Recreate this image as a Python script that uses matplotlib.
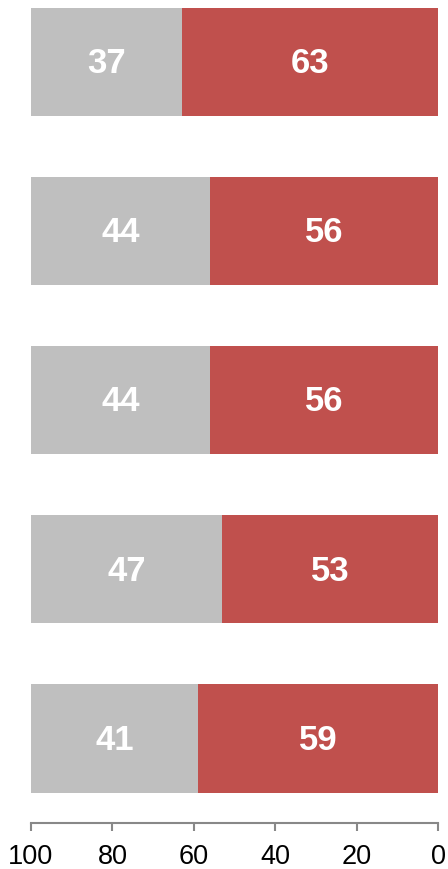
import matplotlib
matplotlib.use("Agg")
import matplotlib.pyplot as plt

red_values = [63, 56, 56, 53, 59]
grey_values = [37, 44, 44, 47, 41]
ticks = [100, 80, 60, 40, 20, 0]

plt.rcParams['font.family'] = ['Liberation Sans', 'DejaVu Sans']

fig = plt.figure(figsize=(4.48, 8.69), dpi=100)
ax = fig.add_axes([31/448, 46/869, 407/448, 823/869])

red_c = '#C0504D'
grey_c = '#BFBFBF'
n = len(red_values)
ypos = [n - 1 - i for i in range(n)]
h = 0.64
for y, r, g in zip(ypos, red_values, grey_values):
    ax.barh(y, r, left=0, height=h, color=red_c, edgecolor='none')
    ax.barh(y, g, left=r, height=h, color=grey_c, edgecolor='none')
    ax.text(r / 2, y - 0.01, str(r), ha='center', va='center', color='white',
            fontsize=25, fontweight='bold')
    ax.text(r + g / 2, y - 0.01, str(g), ha='center', va='center', color='white',
            fontsize=25, fontweight='bold')

ax.set_xlim(100, 0)
ax.set_ylim(-0.5, n - 1 + 62/169)
ax.set_xticks(ticks)
ax.set_xticklabels([str(t) for t in ticks])
ax.set_yticks([])
for s in ['top', 'right', 'left']:
    ax.spines[s].set_visible(False)
ax.spines['bottom'].set_color('#888888')
ax.spines['bottom'].set_linewidth(1.5)
ax.tick_params(axis='x', colors='#888888', length=6, width=1.5, pad=9,
               labelsize=19.5, labelcolor='black')
ax.patch.set_alpha(0)

fig.savefig('out.png', dpi=100)
